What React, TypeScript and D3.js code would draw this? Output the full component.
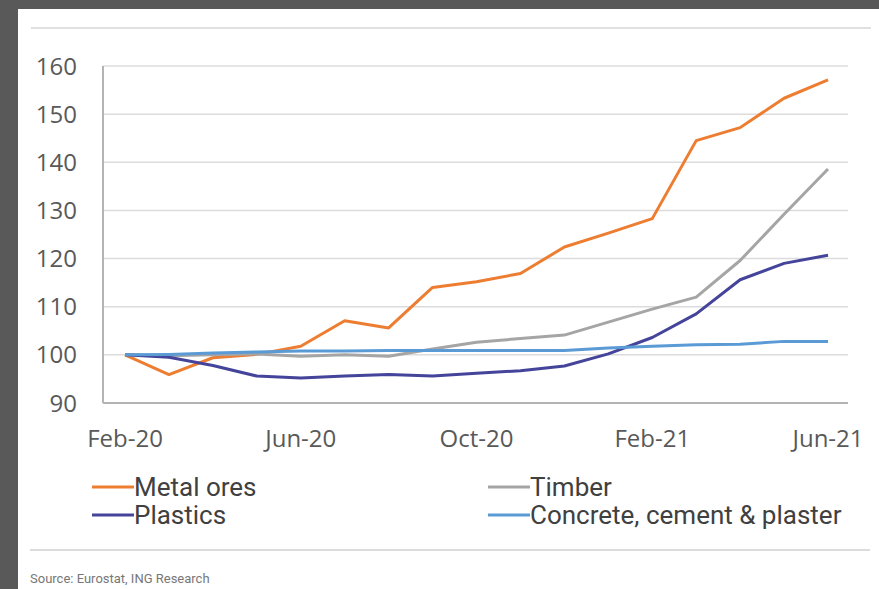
import * as d3 from "d3";

const MONTHS = [
  "Feb-20", "Mar-20", "Apr-20", "May-20", "Jun-20", "Jul-20", "Aug-20", "Sep-20",
  "Oct-20", "Nov-20", "Dec-20", "Jan-21", "Feb-21", "Mar-21", "Apr-21", "May-21", "Jun-21",
];
const X_TICKS = ["Feb-20", "Jun-20", "Oct-20", "Feb-21", "Jun-21"];
const Y_TICKS = [90, 100, 110, 120, 130, 140, 150, 160];

const METAL_ORES = [100, 95.9, 99.4, 100.1, 101.8, 107.1, 105.6, 114.0, 115.2, 116.9, 122.4, 125.3, 128.3, 144.5, 147.2, 153.3, 157.1];
const TIMBER = [100, 99.8, 100.0, 100.2, 99.7, 100.0, 99.7, 101.2, 102.6, 103.4, 104.1, 106.8, 109.5, 112.0, 119.6, 129.2, 138.6];
const PLASTICS = [100, 99.5, 97.8, 95.6, 95.2, 95.6, 95.9, 95.6, 96.2, 96.7, 97.7, 100.2, 103.6, 108.5, 115.6, 119.0, 120.7];
const CONCRETE = [100, 100.1, 100.4, 100.6, 100.8, 100.8, 100.9, 100.9, 100.9, 100.9, 100.9, 101.4, 101.8, 102.1, 102.2, 102.8, 102.8];

const SERIES = [
  { name: "Metal ores", values: METAL_ORES, color: "#ED7D31" },
  { name: "Timber", values: TIMBER, color: "#A5A5A5" },
  { name: "Plastics", values: PLASTICS, color: "#44449A" },
  { name: "Concrete, cement & plaster", values: CONCRETE, color: "#5B9BD5" },
];

const W = 879;
const H = 589;
const PLOT = { left: 103, right: 848, top: 66, bottom: 403 };

export default function App() {
  const x = d3.scalePoint<string>().domain(MONTHS).range([125, 828]);
  const y = d3.scaleLinear().domain([90, 160]).range([PLOT.bottom, PLOT.top]);

  const line = d3
    .line<number>()
    .x((_, i) => x(MONTHS[i]) as number)
    .y((d) => y(d));

  // legend order as drawn: two columns, two rows
  const legendPos = [
    { col: 0, row: 0 },
    { col: 1, row: 0 },
    { col: 0, row: 1 },
    { col: 1, row: 1 },
  ];
  const colX = [92, 488];
  const rowY = [487, 515];

  return (
    <svg
      width={W}
      height={H}
      style={{ position: "absolute", left: 0, top: 0, display: "block" }}
    >
      <rect x={0} y={0} width={W} height={H} fill="#595959" />
      <rect x={18} y={9} width={W - 18} height={H - 9} fill="#ffffff" />
      <line x1={31} x2={871} y1={28} y2={28} stroke="#e0e0e0" strokeWidth={2} />

      {/* grid */}
      {Y_TICKS.filter((t) => t !== 90).map((t) => (
        <line key={t} x1={PLOT.left} x2={PLOT.right} y1={y(t)} y2={y(t)} stroke="#dcdcdc" strokeWidth={1.5} />
      ))}
      {/* axes */}
      <line x1={PLOT.left} x2={PLOT.left} y1={PLOT.top} y2={PLOT.bottom} stroke="#b4b4b4" strokeWidth={2} />
      <line x1={PLOT.left} x2={PLOT.right} y1={PLOT.bottom} y2={PLOT.bottom} stroke="#b4b4b4" strokeWidth={2} />

      <g fontFamily="'Open Sans', sans-serif" fontSize={24} fill="#595959">
        {Y_TICKS.map((t) => (
          <text key={t} x={77} y={y(t)} dy="0.36em" textAnchor="end">
            {t}
          </text>
        ))}
        {X_TICKS.map((m) => (
          <text key={m} x={x(m)} y={447} textAnchor="middle">
            {m}
          </text>
        ))}
      </g>

      {SERIES.map((s) => (
        <path
          key={s.name}
          d={line(s.values) ?? ""}
          fill="none"
          stroke={s.color}
          strokeWidth={3}
          strokeLinejoin="round"
        />
      ))}

      <g fontFamily="Roboto, sans-serif" fontSize={26} fill="#404040">
        {SERIES.map((s, i) => {
          const p = legendPos[i];
          const lx = colX[p.col];
          const ly = rowY[p.row];
          return (
            <g key={s.name}>
              <line x1={lx} x2={lx + 42} y1={ly} y2={ly} stroke={s.color} strokeWidth={3} />
              <text x={lx + 42} y={ly} dy="0.36em">
                {s.name}
              </text>
            </g>
          );
        })}
      </g>

      <line x1={30} x2={870} y1={550} y2={550} stroke="#dcdcdc" strokeWidth={2} />
      <text x={30} y={583} fontFamily="Roboto, sans-serif" fontSize={13} fill="#777777">
        Source: Eurostat, ING Research
      </text>
    </svg>
  );
}
